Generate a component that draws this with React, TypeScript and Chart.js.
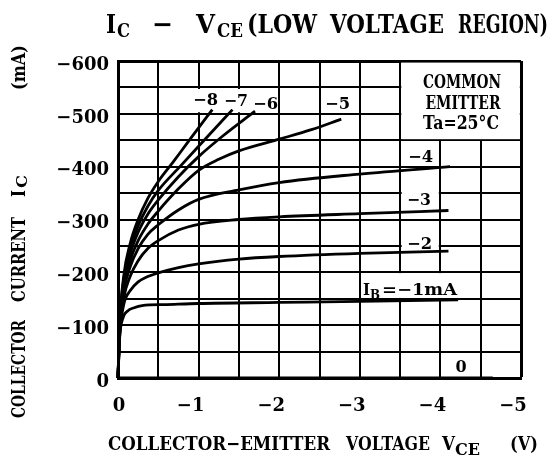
import React, { useEffect, useRef } from 'react';
import { Chart, registerables } from 'chart.js';

Chart.register(...registerables);

// ---- data (V in volts, I in mA; both negative as in the original) ----
const V_IB8 = [0, -0.02, -0.07, -0.15, -0.25, -0.37, -0.5, -0.69, -0.86, -1.17];
const I_IB8 = [0, -100, -192, -254, -300, -340, -372, -410, -445, -508];

const V_IB7 = [0, -0.02, -0.07, -0.15, -0.25, -0.37, -0.5, -0.78, -1.02, -1.42];
const I_IB7 = [0, -97, -185, -244, -288, -325, -355, -402, -442, -508];

const V_IB6 = [0, -0.02, -0.07, -0.15, -0.25, -0.37, -0.5, -0.75, -1.0, -1.3, -1.7];
const I_IB6 = [0, -94, -178, -234, -276, -310, -337, -381, -419, -458, -505];

const V_IB5 = [0, -0.02, -0.07, -0.15, -0.25, -0.37, -0.5, -0.75, -1.0, -1.25, -1.5, -2.0, -2.4, -2.77];
const I_IB5 = [0, -90, -170, -222, -260, -291, -316, -358, -393, -414, -430, -452, -470, -490];

const V_IB4 = [0, -0.02, -0.07, -0.15, -0.25, -0.37, -0.5, -0.75, -1.0, -1.5, -2.0, -3.0, -4.12];
const I_IB4 = [0, -86, -162, -210, -245, -272, -290, -318, -338, -356, -370, -386, -400];

const V_IB3 = [0, -0.02, -0.07, -0.15, -0.25, -0.37, -0.5, -0.75, -1.0, -1.5, -2.0, -3.0, -4.1];
const I_IB3 = [0, -82, -150, -192, -222, -245, -260, -280, -291, -300, -305, -311, -317];

const V_IB2 = [0, -0.02, -0.07, -0.15, -0.25, -0.37, -0.5, -0.75, -1.0, -1.5, -2.0, -3.0, -4.1];
const I_IB2 = [0, -78, -138, -165, -182, -192, -199, -209, -216, -225, -230, -236, -240];

const V_IB1 = [0, -0.02, -0.06, -0.12, -0.2, -0.3, -0.6, -1.0, -2.0, -3.0, -4.22];
const I_IB1 = [0, -75, -113, -127, -133, -137, -139, -141, -143, -145, -148];

const V_IB0 = [0, -4.65];
const I_IB0 = [0, 0];

const CURVES = [
  { v: V_IB8, i: I_IB8 },
  { v: V_IB7, i: I_IB7 },
  { v: V_IB6, i: I_IB6 },
  { v: V_IB5, i: I_IB5 },
  { v: V_IB4, i: I_IB4 },
  { v: V_IB3, i: I_IB3 },
  { v: V_IB2, i: I_IB2 },
  { v: V_IB1, i: I_IB1 },
  { v: V_IB0, i: I_IB0 },
];

const X_MIN = -5;
const Y_MIN = -600;
const MINUS = '\u2212';

const FAMILY = '"DejaVu Serif", "Liberation Serif", serif';

type TxtOpts = {
  size: number;
  bold?: boolean;
  align?: CanvasTextAlign;
  width?: number;
  rotate?: boolean;
};

function txt(ctx: CanvasRenderingContext2D, s: string, x: number, y: number, o: TxtOpts) {
  ctx.save();
  ctx.font = `${o.bold === false ? 'normal' : 'bold'} ${o.size}px ${FAMILY}`;
  ctx.textBaseline = 'alphabetic';
  ctx.fillStyle = '#000';
  const w = ctx.measureText(s).width;
  const sx = o.width ? o.width / w : 1;
  ctx.translate(x, y);
  if (o.rotate) ctx.rotate(-Math.PI / 2);
  ctx.scale(sx, 1);
  ctx.textAlign = o.align || 'left';
  ctx.fillText(s, 0, 0);
  ctx.restore();
}

const overlay = {
  id: 'overlay',
  beforeDatasetsDraw(chart: any) {
    const { ctx } = chart;
    const xs = chart.scales.x;
    const ys = chart.scales.y;
    const rect = (v1: number, v2: number, i1: number, i2: number) => {
      const x1 = xs.getPixelForValue(v1);
      const x2 = xs.getPixelForValue(v2);
      const y1 = ys.getPixelForValue(i1);
      const y2 = ys.getPixelForValue(i2);
      ctx.fillRect(Math.min(x1, x2), Math.min(y1, y2), Math.abs(x2 - x1), Math.abs(y2 - y1));
    };
    ctx.save();
    ctx.fillStyle = '#fff';
    // COMMON EMITTER box
    rect(-3.515, -4.985, -597, -452);
    // label backgrounds
    rect(-0.9, -1.98, -547, -503);
    rect(-3.52, -3.98, -357, -326);
    rect(-3.52, -3.98, -267, -242);
    rect(-3.02, -4.2, -198.5, -151.5);
    ctx.restore();
  },
  afterDatasetsDraw(chart: any) {
    const { ctx } = chart;
    // curve labels
    txt(ctx, MINUS + '8', 193, 105, { size: 16, width: 25 });
    txt(ctx, MINUS + '7', 224, 106, { size: 16, width: 24 });
    txt(ctx, MINUS + '6', 253, 109, { size: 16, width: 25 });
    txt(ctx, MINUS + '5', 325, 109, { size: 16, width: 25 });
    txt(ctx, MINUS + '4', 408, 162, { size: 16, width: 25 });
    txt(ctx, MINUS + '3', 407, 205, { size: 16, width: 24 });
    txt(ctx, MINUS + '2', 407, 249, { size: 16, width: 25 });
    txt(ctx, 'I', 363, 295, { size: 16, width: 7 });
    txt(ctx, 'B', 370, 299, { size: 12, width: 10 });
    txt(ctx, '=' + MINUS + '1mA', 382, 295, { size: 16, width: 75 });
    txt(ctx, '0', 461, 372, { size: 16, align: 'center' });
    // box text
    txt(ctx, 'COMMON', 462, 88, { size: 18, align: 'center', width: 78 });
    txt(ctx, 'EMITTER', 463, 109, { size: 18, align: 'center', width: 75 });
    txt(ctx, 'Ta=25\u00B0C', 461, 129, { size: 18, align: 'center', width: 76 });
  },
  afterDraw(chart: any) {
    const { ctx } = chart;
    // title
    txt(ctx, 'I', 106, 33, { size: 26, width: 10 });
    txt(ctx, 'C', 117, 37, { size: 18, width: 13 });
    txt(ctx, MINUS, 152, 33, { size: 26, width: 21 });
    txt(ctx, 'V', 196, 33, { size: 26, width: 19 });
    txt(ctx, 'CE', 217, 37, { size: 18, width: 26 });
    txt(ctx, '(LOW', 247, 33, { size: 26, width: 70 });
    txt(ctx, 'VOLTAGE', 330, 33, { size: 26, width: 114 });
    txt(ctx, 'REGION)', 458, 33, { size: 26, width: 90 });
    // x-axis title
    txt(ctx, 'COLLECTOR' + MINUS + 'EMITTER', 108, 450, { size: 19, width: 222 });
    txt(ctx, 'VOLTAGE', 346, 450, { size: 19, width: 84 });
    txt(ctx, 'V', 442, 450, { size: 19, width: 13 });
    txt(ctx, 'CE', 455, 455, { size: 16, width: 25 });
    txt(ctx, '(V)', 510, 450, { size: 19, width: 28 });
    // y-axis title (rotated)
    txt(ctx, 'COLLECTOR', 25, 418, { size: 19, width: 98, rotate: true });
    txt(ctx, 'CURRENT', 25, 302, { size: 19, width: 85, rotate: true });
    txt(ctx, 'I', 25, 197, { size: 19, width: 7, rotate: true });
    txt(ctx, 'C', 27, 188, { size: 15, width: 13, rotate: true });
    txt(ctx, '(mA)', 25, 90, { size: 19, width: 45, rotate: true });
  },
};

export default function App() {
  const ref = useRef<HTMLCanvasElement>(null);
  useEffect(() => {
    document.body.style.margin = '0';
    const tickFont = { family: FAMILY, weight: 'bold' as const, size: 18 };
    const chart = new Chart(ref.current!, {
      type: 'line',
      data: {
        datasets: CURVES.map((c) => ({
          data: c.v.map((v, k) => ({ x: v, y: c.i[k] })),
          borderColor: '#000',
          borderWidth: 2.8,
          pointRadius: 0,
          fill: false,
          cubicInterpolationMode: 'monotone' as const,
          clip: 6,
        })),
      },
      plugins: [overlay],
      options: {
        animation: false,
        responsive: false,
        devicePixelRatio: 1,
        events: [],
        layout: { padding: { top: 61, right: 29, left: 0, bottom: 0 } },
        plugins: {
          legend: { display: false },
          tooltip: { enabled: false },
          title: { display: false },
        },
        scales: {
          x: {
            type: 'linear',
            min: X_MIN,
            max: 0,
            reverse: true,
            afterFit: (s: any) => {
              s.height = 84;
              s.paddingLeft = 0;
              s.paddingRight = 0;
            },
            ticks: {
              stepSize: 0.5,
              autoSkip: false,
              maxRotation: 0,
              padding: 18,
              labelOffset: -8,
              color: '#000',
              font: tickFont,
              callback: (val: any) => {
                const v = Number(val);
                if (!Number.isInteger(v)) return '';
                return v === 0 ? '\u20030' : MINUS + Math.abs(v);
              },
            },
            grid: {
              color: '#000',
              lineWidth: (c: any) => (c.tick && c.tick.value === X_MIN ? 3 : 2),
              drawTicks: false,
            },
            border: { display: true, color: '#000', width: 3 },
          },
          y: {
            type: 'linear',
            min: Y_MIN,
            max: 0,
            reverse: true,
            afterFit: (s: any) => {
              s.width = 118;
              s.paddingTop = 0;
              s.paddingBottom = 0;
            },
            ticks: {
              stepSize: 50,
              autoSkip: false,
              padding: 9,
              labelOffset: 4,
              color: '#000',
              font: tickFont,
              callback: (val: any) => {
                const v = Number(val);
                if (v % 100 !== 0) return '';
                return v === 0 ? '0' : MINUS + Math.abs(v);
              },
            },
            grid: {
              color: '#000',
              lineWidth: (c: any) => (c.tick && c.tick.value === Y_MIN ? 3 : 2),
              drawTicks: false,
            },
            border: { display: true, color: '#000', width: 3 },
          },
        },
      },
    } as any);
    return () => chart.destroy();
  }, []);
  return (
    <div style={{ width: 550, height: 462, background: '#fff' }}>
      <canvas ref={ref} width={550} height={462} style={{ display: 'block' }} />
    </div>
  );
}
